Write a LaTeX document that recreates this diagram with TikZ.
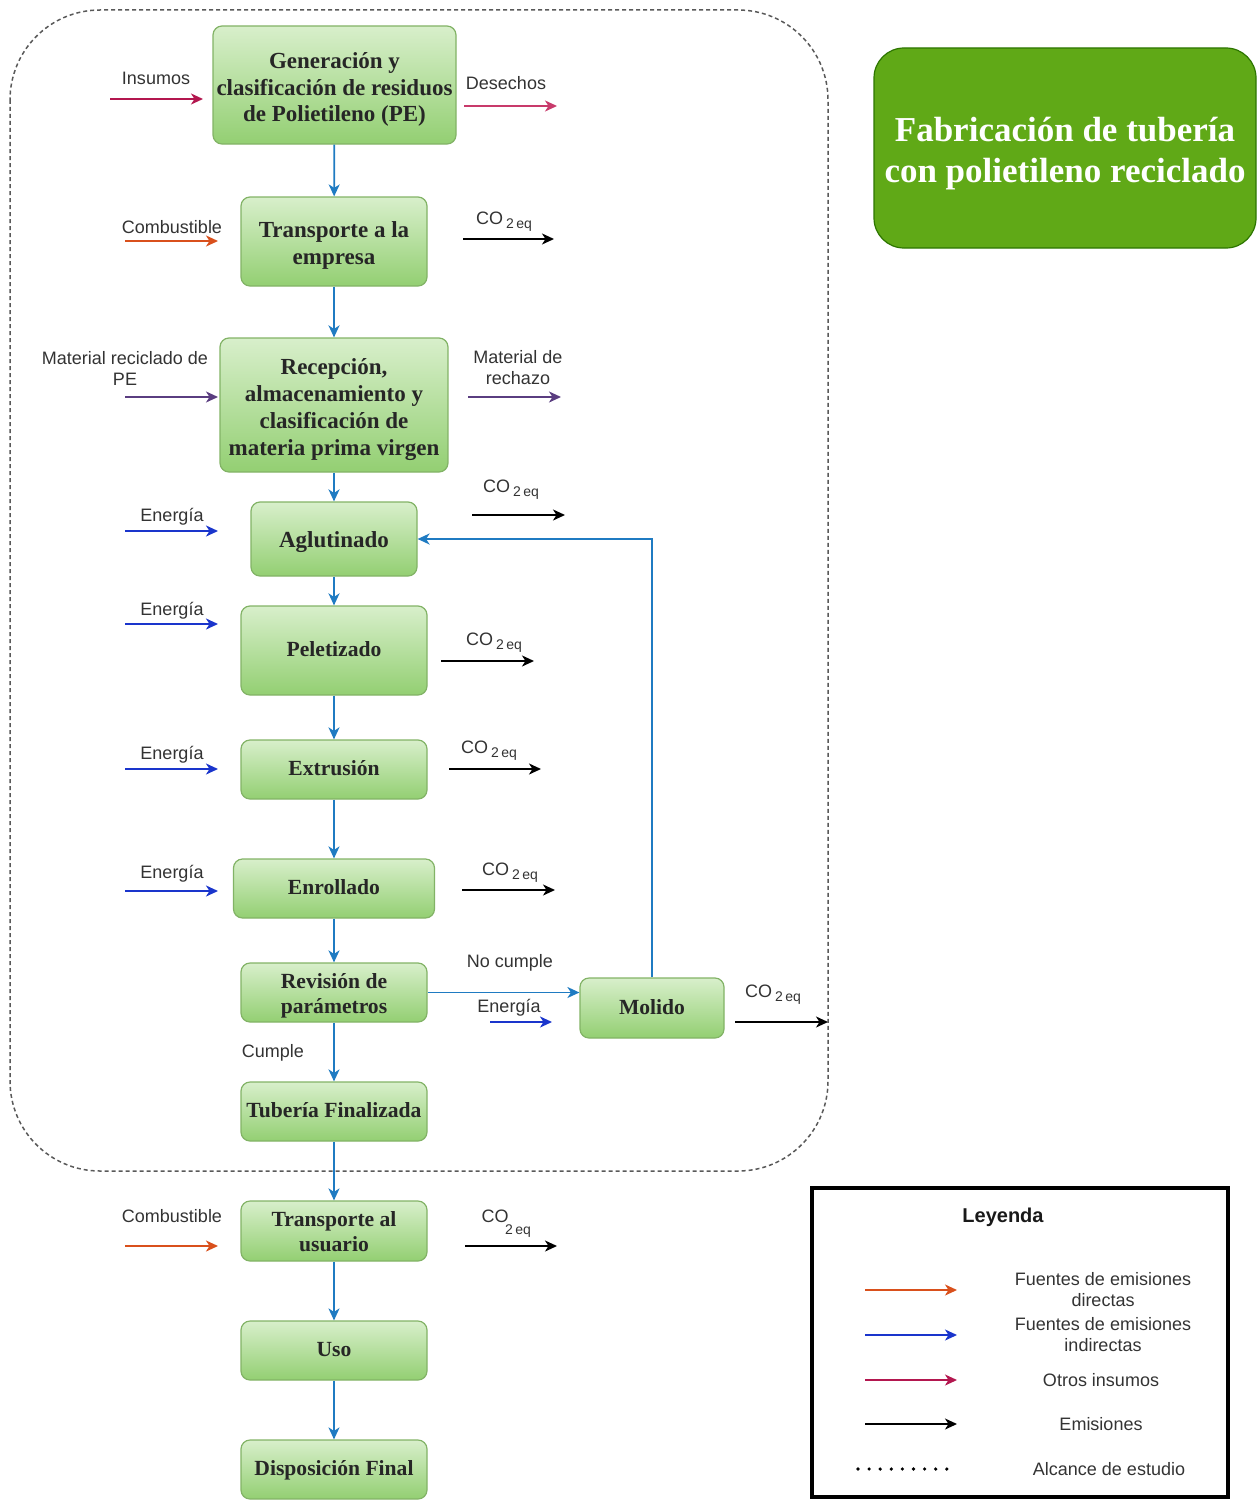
\documentclass[tikz,border=0pt]{standalone}
\usepackage{fontspec}
\setmainfont{Liberation Serif}
\setsansfont{Liberation Sans}
\usetikzlibrary{arrows.meta}

\definecolor{flowblue}{HTML}{1F7BC2}
\definecolor{energyblue}{HTML}{1A35CC}
\definecolor{fuelorange}{HTML}{D9501C}
\definecolor{inputred}{HTML}{B3174F}
\definecolor{wastepink}{HTML}{C83A6B}
\definecolor{matpurple}{HTML}{5A3D80}
\definecolor{boxtop}{HTML}{D8EFCB}
\definecolor{boxbot}{HTML}{93CF72}
\definecolor{boxline}{HTML}{82B366}
\definecolor{titlegreen}{HTML}{60A917}
\definecolor{titleline}{HTML}{2D7600}
\definecolor{labgray}{HTML}{333333}

\newcommand{\coeq}{CO\,\raisebox{-4pt}{\fontsize{14}{14}\selectfont 2\,eq}}
% invisible strut that lowers the first line of a multi-line box text
\newcommand{\firstline}[1]{\rule{0pt}{#1}}

\tikzset{
  stepbox/.style={draw=boxline, line width=1.2pt, rounded corners=9pt,
    top color=boxtop, bottom color=boxbot, align=center, inner sep=0pt,
    font=\bfseries\fontsize{23}{27}\selectfont, text=black!85,
    execute at end node={\rule[-8pt]{0pt}{8pt}}},
  smallbox/.style={stepbox, font=\bfseries\fontsize{21.6}{25}\selectfont,
    execute at end node={\rule[-9pt]{0pt}{9pt}}},
  toppad/.style={execute at begin node={\rule{0pt}{#1}}},
  lab/.style={font=\sffamily\fontsize{18}{21}\selectfont, text=labgray,
    align=center, inner sep=0pt},
  tip/.style={-{Stealth[length=12pt,width=11pt,inset=3.5pt]}, line width=1.8pt},
  flow/.style={tip, draw=flowblue, color=flowblue},
  energy/.style={tip, draw=energyblue, color=energyblue},
  fuel/.style={tip, draw=fuelorange, color=fuelorange},
  other/.style={tip, draw=inputred, color=inputred},
  waste/.style={tip, draw=wastepink, color=wastepink},
  matter/.style={tip, draw=matpurple, color=matpurple},
  emis/.style={tip, draw=black, color=black},
}

\begin{document}
\begin{tikzpicture}[x=1pt, y=-1pt]
\useasboundingbox (0,0) rectangle (1257,1501);

% system boundary
\draw[black!65, line width=1.5pt, dash pattern=on 4pt off 3pt, rounded corners=90pt]
  (10,10) rectangle (828,1171);

% title
\node[draw=titleline, line width=1.2pt, fill=titlegreen, rounded corners=30pt,
  minimum width=382pt, minimum height=200pt, inner sep=0pt, align=center,
  text=white, font=\bfseries\fontsize{35}{40}\selectfont,
  execute at end node={\rule[-12pt]{0pt}{12pt}}] (title) at (1065,148)
  {\firstline{40pt}Fabricación de tubería\\con polietileno reciclado};

% process steps
\node[stepbox, minimum width=243pt, minimum height=118pt] (gen) at (334.5,85)
  {\firstline{28pt}Generación y\\clasificación de residuos\\de Polietileno (PE)};
\node[stepbox, minimum width=186pt, minimum height=89pt] (tre) at (334,241.5)
  {\firstline{26pt}Transporte a la\\empresa};
\node[stepbox, minimum width=228pt, minimum height=134pt] (rec) at (334,405)
  {\firstline{28pt}Recepción,\\almacenamiento y\\clasificación de\\materia prima virgen};
\node[stepbox, toppad=24.5pt, minimum width=166pt, minimum height=74pt] (agl) at (334,539)
  {Aglutinado};
\node[smallbox, toppad=21pt, minimum width=186pt, minimum height=89pt] (pel) at (334,650.5)
  {Peletizado};
\node[smallbox, toppad=21pt, minimum width=186pt, minimum height=59pt] (ext) at (334,769.5)
  {Extrusión};
\node[smallbox, toppad=21pt, minimum width=201pt, minimum height=59pt] (enr) at (334,888.5)
  {Enrollado};
\node[smallbox, minimum width=186pt, minimum height=59pt] (rev) at (334,992.5)
  {\firstline{25pt}Revisión de\\parámetros};
\node[smallbox, toppad=21pt, minimum width=186pt, minimum height=59pt] (tub) at (334,1111.5)
  {Tubería Finalizada};
\node[smallbox, minimum width=186pt, minimum height=60pt] (tru) at (334,1231)
  {\firstline{25pt}Transporte al\\usuario};
\node[smallbox, toppad=21pt, minimum width=186pt, minimum height=59pt] (uso) at (334,1350.5)
  {Uso};
\node[smallbox, toppad=21pt, minimum width=186pt, minimum height=59pt] (dis) at (334,1469.5)
  {Disposición Final};
\node[smallbox, toppad=21pt, minimum width=144pt, minimum height=60pt] (mol) at (652,1008)
  {Molido};

% main flow
\draw[flow] (gen) -- (tre);
\draw[flow] (tre) -- (rec);
\draw[flow] (rec) -- (agl);
\draw[flow] (agl) -- (pel);
\draw[flow] (pel) -- (ext);
\draw[flow] (ext) -- (enr);
\draw[flow] (enr) -- (rev);
\draw[flow] (rev) -- (tub);
\draw[flow] (tub) -- (tru);
\draw[flow] (tru) -- (uso);
\draw[flow] (uso) -- (dis);
\draw[flow] (rev.east) -- (rev.east -| mol.west);
\draw[flow] (mol.north) |- (agl.east);
\node[lab] (nocumple) at (510,963) {No cumple};
\node[lab] (cumple) at (273,1053) {Cumple};

% inputs and outputs of each step
\path (110,99) coordinate (insS) (203,99) coordinate (insE)
      (464,106) coordinate (desS) (557,106) coordinate (desE)
      (125,241) coordinate (cb1S) (218,241) coordinate (cb1E)
      (463,239) coordinate (co1S) (554,239) coordinate (co1E)
      (125,397) coordinate (mrS) (218,397) coordinate (mrE)
      (468,397) coordinate (rzS) (561,397) coordinate (rzE)
      (125,531) coordinate (en1S) (218,531) coordinate (en1E)
      (472,515) coordinate (co2S) (565,515) coordinate (co2E)
      (125,624) coordinate (en2S) (218,624) coordinate (en2E)
      (441,661) coordinate (co3S) (534,661) coordinate (co3E)
      (125,769) coordinate (en3S) (218,769) coordinate (en3E)
      (449,769) coordinate (co4S) (541,769) coordinate (co4E)
      (125,891) coordinate (en4S) (218,891) coordinate (en4E)
      (462,890) coordinate (co5S) (555,890) coordinate (co5E)
      (490,1022) coordinate (en5S) (552,1022) coordinate (en5E)
      (735,1022) coordinate (co6S) (828,1022) coordinate (co6E)
      (125,1246) coordinate (cb2S) (218,1246) coordinate (cb2E)
      (465,1246) coordinate (co7S) (557,1246) coordinate (co7E);

\draw[other] (insS) -- (insE);
\node[lab] (ins) at (156,78) {Insumos};
\draw[waste] (desS) -- (desE);
\node[lab] (des) at (506,83) {Desechos};

\draw[fuel] (cb1S) -- (cb1E);
\node[lab] (cb1) at (172,227) {Combustible};
\draw[emis] (co1S) -- (co1E);
\node[lab] (co1) at (504,222) {\coeq};

\draw[matter] (mrS) -- (mrE);
\node[lab] (mr) at (125,368) {Material reciclado de\\PE};
\draw[matter] (rzS) -- (rzE);
\node[lab] (rz) at (518,368) {Material de\\rechazo};

\draw[energy] (en1S) -- (en1E);
\node[lab] (en1) at (172,517) {Energía};
\draw[emis] (co2S) -- (co2E);
\node[lab] (co2) at (511,490) {\coeq};

\draw[energy] (en2S) -- (en2E);
\node[lab] (en2) at (172,611) {Energía};
\draw[emis] (co3S) -- (co3E);
\node[lab] (co3) at (494,643) {\coeq};

\draw[energy] (en3S) -- (en3E);
\node[lab] (en3) at (172,755) {Energía};
\draw[emis] (co4S) -- (co4E);
\node[lab] (co4) at (489,751) {\coeq};

\draw[energy] (en4S) -- (en4E);
\node[lab] (en4) at (172,874) {Energía};
\draw[emis] (co5S) -- (co5E);
\node[lab] (co5) at (510,873) {\coeq};

\draw[energy] (en5S) -- (en5E);
\node[lab] (en5) at (509,1008) {Energía};
\draw[emis] (co6S) -- (co6E);
\node[lab] (co6) at (773,995) {\coeq};

\draw[fuel] (cb2S) -- (cb2E);
\node[lab] (cb2) at (172,1216) {Combustible};
\draw[emis] (co7S) -- (co7E);
\node[lab] (co7a) at (495,1216) {CO};
\node[lab, font=\sffamily\fontsize{14}{14}\selectfont] (co7b) at (518,1231) {2\,eq};

% legend
\draw[black, line width=4pt] (812,1188) rectangle (1228,1497);
\node[lab, font=\sffamily\bfseries\fontsize{20}{24}\selectfont, text=black!90] (ley) at (1003,1217) {Leyenda};
\path (865,1290) coordinate (l1S) (957,1290) coordinate (l1E)
      (865,1335) coordinate (l2S) (957,1335) coordinate (l2E)
      (865,1380) coordinate (l3S) (957,1380) coordinate (l3E)
      (865,1424) coordinate (l4S) (957,1424) coordinate (l4E)
      (858,1469) coordinate (l5S) (950,1469) coordinate (l5E);
\draw[fuel] (l1S) -- (l1E);
\node[lab] (lt1) at (1103,1290) {Fuentes de emisiones\\directas};
\draw[energy] (l2S) -- (l2E);
\node[lab] (lt2) at (1103,1335) {Fuentes de emisiones\\indirectas};
\draw[other] (l3S) -- (l3E);
\node[lab] (lt3) at (1101,1380) {Otros insumos};
\draw[emis] (l4S) -- (l4E);
\node[lab] (lt4) at (1101,1424) {Emisiones};
\draw[black, line width=3.6pt, line cap=round, dash pattern=on 0pt off 11.1pt] (l5S) -- (l5E);
\node[lab] (lt5) at (1109,1469) {Alcance de estudio};
\end{tikzpicture}
\end{document}
